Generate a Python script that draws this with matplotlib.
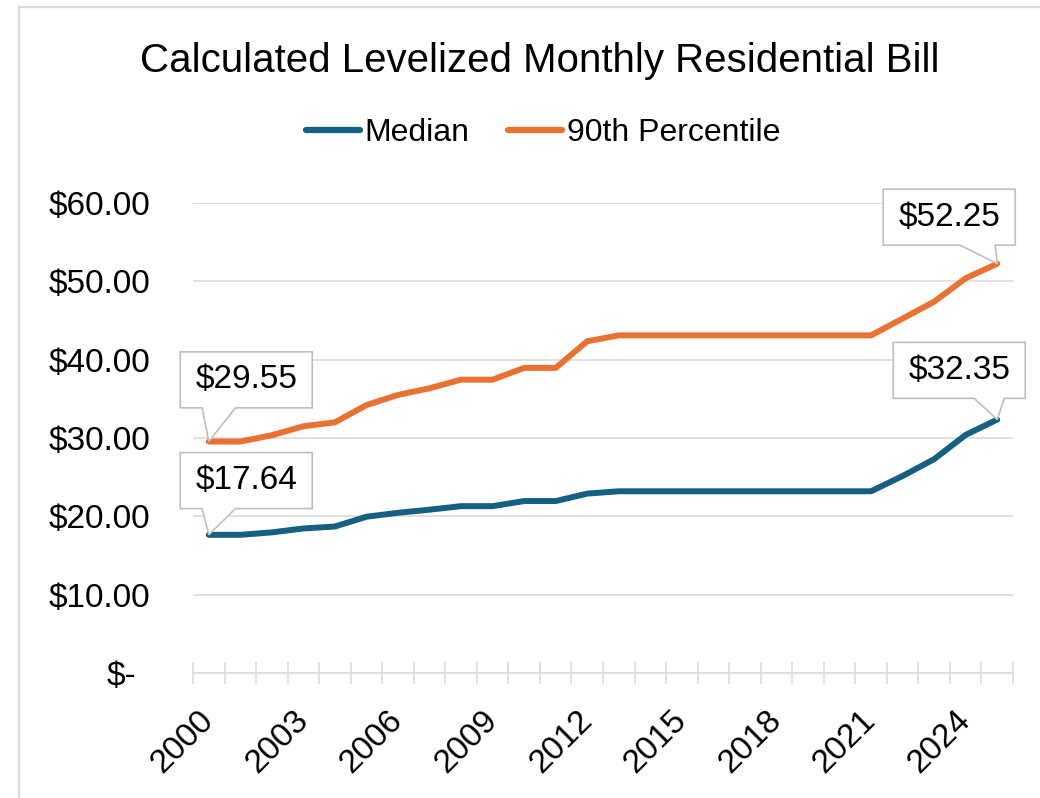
import matplotlib
matplotlib.use("Agg")
import matplotlib.pyplot as plt
from matplotlib.patches import Rectangle, Polygon
from matplotlib.transforms import ScaledTranslation
import numpy as np

# ---- data ----
years = list(range(2000, 2026))
median = [17.64, 17.64, 17.95, 18.45, 18.70, 19.95, 20.45, 20.85, 21.30, 21.30,
          21.95, 21.95, 22.90, 23.20, 23.20, 23.20, 23.20, 23.20, 23.20, 23.20,
          23.20, 23.20, 25.15, 27.30, 30.40, 32.35]
p90 = [29.55, 29.55, 30.35, 31.50, 32.00, 34.20, 35.50, 36.35, 37.45, 37.45,
       38.95, 38.95, 42.35, 43.10, 43.10, 43.10, 43.10, 43.10, 43.10, 43.10,
       43.10, 43.10, 45.25, 47.40, 50.40, 52.25]
series_names = ["Median", "90th Percentile"]
title = "Calculated Levelized Monthly Residential Bill"
y_ticks = [0, 10, 20, 30, 40, 50, 60]
label_years = years[::3]

C_MED = "#156082"
C_P90 = "#E97132"
GRID = "#d9d9d9"
NUM_FONT = ["Liberation Sans", "DejaVu Sans"]
NARROW_FONT = ["Liberation Sans Narrow", "Liberation Sans", "DejaVu Sans"]

W, H = 1040, 798
fig = plt.figure(figsize=(W / 100, H / 100), dpi=100)
fig.patch.set_facecolor("white")

ax = fig.add_axes([193 / W, 1 - 673 / H, 820 / W, (673 - 203) / H])
x = np.arange(len(years))

ax.plot(x, median, color=C_MED, lw=4.3, solid_capstyle="round",
        solid_joinstyle="round", label=series_names[0], zorder=3)
ax.plot(x, p90, color=C_P90, lw=4.3, solid_capstyle="round",
        solid_joinstyle="round", label=series_names[1], zorder=3)

ax.set_xlim(-0.5, len(years) - 0.5)
ax.set_ylim(0, 60)

# grid & spines
for s in ["left", "right", "top"]:
    ax.spines[s].set_visible(False)
ax.spines["bottom"].set_color(GRID)
ax.spines["bottom"].set_linewidth(1.1)
ax.set_yticks(y_ticks)
ax.yaxis.grid(True, color=GRID, lw=1.1)
ax.set_axisbelow(True)
ylabels = ["$-" if v == 0 else f"${v:.2f}" for v in y_ticks]
ax.set_yticklabels(ylabels, fontsize=24, family=NUM_FONT)
ax.tick_params(axis="y", length=0, pad=31)
lab0 = ax.get_yticklabels()[0]
lab0.set_transform(lab0.get_transform() + ScaledTranslation(-0.14, 0, fig.dpi_scale_trans))

# x ticks
label_idx = [years.index(yv) for yv in label_years]
ax.set_xticks(label_idx)
ax.set_xticklabels([str(yv) for yv in label_years], fontsize=24, family=NUM_FONT,
                   rotation=45, ha="right", va="center", rotation_mode="anchor")
ax.set_xticks(np.arange(-0.5, len(years)), minor=True)
ax.tick_params(axis="x", which="major", length=0, pad=31)
ax.tick_params(axis="x", which="minor", direction="inout", length=16,
               width=1.1, color=GRID)

# data label callouts (offsets in inches relative to the data point)
BOX_W, BOX_H = 1.32, 0.56

def callout(i, vals, cx, cy, base_l, base_r):
    trans = fig.dpi_scale_trans + ScaledTranslation(x[i], vals[i], ax.transData)
    l, r = cx - BOX_W / 2, cx + BOX_W / 2
    b, t = cy - BOX_H / 2, cy + BOX_H / 2
    verts = [(l, b), (base_l, b), (0, 0), (base_r, b), (r, b), (r, t), (l, t)]
    ax.add_patch(Polygon(verts, closed=True, transform=trans, fc="white",
                         ec="#bfbfbf", lw=1.2, zorder=5, clip_on=False,
                         joinstyle="miter"))
    ax.text(cx, cy, f"${vals[i]:.2f}", transform=trans, ha="center",
            va="center", fontsize=24, family=NUM_FONT, zorder=6)

callout(0, p90, 0.375, 0.617, -0.066, 0.267)
callout(0, median, 0.375, 0.542, -0.066, 0.267)
callout(len(years) - 1, p90, -0.48, 0.465, -0.37, -0.02)
callout(len(years) - 1, median, -0.38, 0.492, -0.23, 0.07)

# title & legend
fig.text(540 / W, 1 - 72 / H, title, ha="center", va="baseline",
         fontsize=29, family=NARROW_FONT)
leg = fig.legend(loc="center", bbox_to_anchor=(543 / W, 1 - 133 / H), ncol=2,
                 frameon=False, prop={"family": NARROW_FONT, "size": 23},
                 handlelength=1.7, handletextpad=0.15, columnspacing=1.2)
for h in leg.get_lines():
    h.set_linewidth(4.5)
    h.set_solid_capstyle("round")

# chart border (left & top visible)
fig.add_artist(Rectangle((19 / W, -0.1), 1.5, 1 - 7 / H + 0.1,
                         transform=fig.transFigure, fill=False,
                         ec=GRID, lw=1.6))

fig.savefig("out.png", dpi=100, facecolor="white")
